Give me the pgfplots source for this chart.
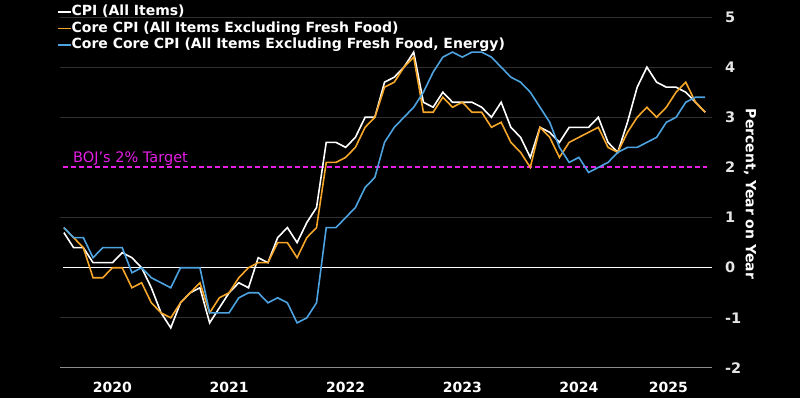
\documentclass[border=0pt]{standalone}
\usepackage{pgfplots}
\usepackage{pgfplotstable}
\usepackage{fontspec}
\setmainfont{DejaVu Sans}
\pgfplotsset{compat=1.18}
\definecolor{cpiorange}{RGB}{245,166,40}
\definecolor{ccblue}{RGB}{77,163,224}
\definecolor{bojmag}{RGB}{230,30,230}
\definecolor{gridc}{RGB}{48,48,48}
\definecolor{axisc}{RGB}{140,140,140}
\pgfplotstableread{
m cpi core cc
0 0.7 0.8 0.8
1 0.4 0.6 0.6
2 0.4 0.4 0.6
3 0.1 -0.2 0.2
4 0.1 -0.2 0.4
5 0.1 0.0 0.4
6 0.3 0.0 0.4
7 0.2 -0.4 -0.1
8 0.0 -0.3 0.0
9 -0.4 -0.7 -0.2
10 -0.9 -0.9 -0.3
11 -1.2 -1.0 -0.4
12 -0.7 -0.7 0.0
13 -0.5 -0.5 0.0
14 -0.4 -0.3 0.0
15 -1.1 -0.9 -0.9
16 -0.8 -0.6 -0.9
17 -0.5 -0.5 -0.9
18 -0.3 -0.2 -0.6
19 -0.4 0.0 -0.5
20 0.2 0.1 -0.5
21 0.1 0.1 -0.7
22 0.6 0.5 -0.6
23 0.8 0.5 -0.7
24 0.5 0.2 -1.1
25 0.9 0.6 -1.0
26 1.2 0.8 -0.7
27 2.5 2.1 0.8
28 2.5 2.1 0.8
29 2.4 2.2 1.0
30 2.6 2.4 1.2
31 3.0 2.8 1.6
32 3.0 3.0 1.8
33 3.7 3.6 2.5
34 3.8 3.7 2.8
35 4.0 4.0 3.0
36 4.3 4.2 3.2
37 3.3 3.1 3.5
38 3.2 3.1 3.9
39 3.5 3.4 4.2
40 3.3 3.2 4.3
41 3.3 3.3 4.2
42 3.3 3.1 4.3
43 3.2 3.1 4.3
44 3.0 2.8 4.2
45 3.3 2.9 4.0
46 2.8 2.5 3.8
47 2.6 2.3 3.7
48 2.2 2.0 3.5
49 2.8 2.8 3.2
50 2.7 2.6 2.9
51 2.5 2.2 2.4
52 2.8 2.5 2.1
53 2.8 2.6 2.2
54 2.8 2.7 1.9
55 3.0 2.8 2.0
56 2.5 2.4 2.1
57 2.3 2.3 2.3
58 2.9 2.7 2.4
59 3.6 3.0 2.4
60 4.0 3.2 2.5
61 3.7 3.0 2.6
62 3.6 3.2 2.9
63 3.6 3.5 3.0
64 3.5 3.7 3.3
65 3.3 3.3 3.4
66 3.1 3.1 3.4
}\data
\begin{document}
\begin{tikzpicture}
\fill[black] (0pt,0pt) rectangle (800pt,398pt);
\begin{axis}[
  at={(60pt,30pt)}, anchor=south west,
  scale only axis, width=652pt, height=351pt,
  xmin=0, xmax=67.1, ymin=-2, ymax=5,
  clip=false,
  axis x line*=bottom, axis y line*=right,
  x axis line style={draw=axisc, line width=1pt},
  y axis line style={draw=none},
  tick align=inside,
  xtick={5.4,17.4,29.4,41.4,53.4,62.6},
  xticklabels={2020,2021,2022,2023,2024,2025},
  xtick style={draw=none},
  x tick label style={font=\fontsize{14}{14}\selectfont\bfseries, text=white, anchor=north, inner sep=0pt, yshift=-13.5pt},
  extra x ticks={0,12,24,36,48,60},
  extra x tick labels={},
  extra x tick style={tick style={draw=axisc, line width=0.8pt}, major tick length=5pt, tick align=outside},
  ytick={-2,-1,0,1,2,3,4,5},
  yticklabels={-2,-1,0,1,2,3,4,5},
  ytick style={draw=none},
  y tick label style={font=\fontsize{14.5}{14.5}\selectfont\bfseries, text=white!90!black, anchor=west, inner sep=0pt, xshift=13pt},
  legend style={at={(-0.0046,1.034)}, anchor=north west, draw=none, fill=none,
    inner sep=0pt, outer sep=0pt, font=\fontsize{14}{14}\selectfont\bfseries,
    nodes={inner sep=0pt, text height=10.5pt, text depth=3pt, text=white}, row sep=3pt, column sep=0pt},
  legend cell align=left,
  legend image code/.code={\draw[#1, line width=1.6pt] (0pt,0pt) -- (13pt,0pt);},
]
\pgfplotsinvokeforeach{-1,1,3,4,5}{
  \addplot[forget plot, gridc, line width=0.8pt] coordinates {(0,#1) (67.1,#1)};
}
\addplot[forget plot, white, line width=1.3pt] coordinates {(0.3,0) (67.1,0)};
\addplot[forget plot, draw=bojmag, color=bojmag, line width=2pt, dash pattern=on 5pt off 3pt] coordinates {(0.3,2) (66.6,2)};
\addplot[white, line width=1.6pt] table[x expr=\thisrow{m}+0.4, y=cpi] {\data};
\addlegendentry{CPI (All Items)}
\addplot[cpiorange, line width=1.6pt] table[x expr=\thisrow{m}+0.4, y=core] {\data};
\addlegendentry{Core CPI (All Items Excluding Fresh Food)}
\addplot[ccblue, line width=1.6pt] table[x expr=\thisrow{m}+0.4, y=cc] {\data};
\addlegendentry{Core Core CPI (All Items Excluding Fresh Food, Energy)}
\node[anchor=base west, inner sep=0pt, text=bojmag, font=\fontsize{14.5}{14.5}\selectfont] at (axis cs:1.34,2.094) {BOJ's 2\% Target};
\node[rotate=-90, inner sep=0pt, text=white, font=\fontsize{14}{14}\selectfont\bfseries] at (axis description cs:1.0583,0.4957) {Percent, Year on Year};
\end{axis}
\end{tikzpicture}
\end{document}
